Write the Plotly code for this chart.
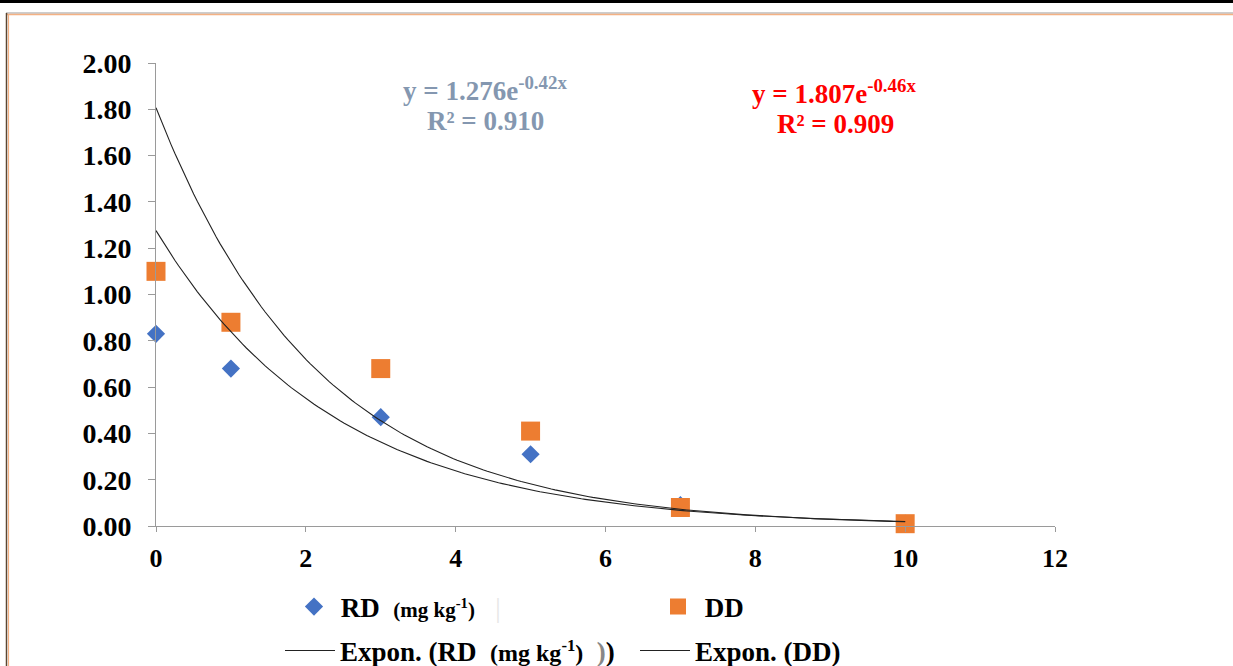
import numpy as np
import plotly.graph_objects as go

# ---- data ----
days = [0, 1, 3, 5, 7, 10]
rd_values = [0.83, 0.68, 0.47, 0.31, 0.09, 0.01]
dd_values = [1.10, 0.88, 0.68, 0.41, 0.08, 0.01]

# trendline coefficients as printed on the chart
rd_a, rd_b, rd_r2 = 1.276, -0.42, 0.910
dd_a, dd_b, dd_r2 = 1.807, -0.46, 0.909

x_ticks = [0, 2, 4, 6, 8, 10, 12]
y_ticks = [0.0, 0.2, 0.4, 0.6, 0.8, 1.0, 1.2, 1.4, 1.6, 1.8, 2.0]

FONT = "Liberation Serif, Times New Roman, serif"
W, H = 1233, 666
L, R, T, B = 156, 178, 63, 140
PW, PH = W - L - R, H - T - B

def px(x):
    return (x - L) / PW

def py(y):
    return (H - B - y) / PH

xs = np.linspace(0, 10, 200)
rd_fit = rd_a * np.exp(rd_b * xs)
dd_fit = dd_a * np.exp(dd_b * xs)

unit1 = "<span style='font-size:21px'>(mg kg<sup>-1</sup>)</span>"
unit2 = "<span style='font-size:24px'>(mg kg<sup>-1</sup>)</span>"

fig = go.Figure()
fig.add_trace(go.Scatter(
    x=days, y=rd_values, mode="markers",
    name=" <b>RD</b>  <b>" + unit1 + "</b>   <span style='color:#e6e6e6'>|</span>",
    marker=dict(symbol="diamond", size=14, color="#4472C4"),
    cliponaxis=False, legend="legend"))
fig.add_trace(go.Scatter(
    x=days, y=dd_values, mode="markers", name=" <b>DD</b>",
    marker=dict(symbol="square", size=19, color="#ED7D31"),
    cliponaxis=False, legend="legend"))
fig.add_trace(go.Scatter(
    x=xs, y=rd_fit, mode="lines",
    name="<b>Expon. (RD</b>  <b>" + unit2 + "</b>  <b><span style='color:#888'>)</span>)</b>",
    line=dict(color="#222222", width=1.1), legend="legend2"))
fig.add_trace(go.Scatter(
    x=xs, y=dd_fit, mode="lines", name="<b>Expon. (DD)</b>",
    line=dict(color="#222222", width=1.1), legend="legend2"))

fig.update_layout(
    width=W, height=H,
    margin=dict(l=L, r=R, t=T, b=B, autoexpand=False),
    paper_bgcolor="white", plot_bgcolor="white",
    font=dict(family=FONT, size=26, color="black"),
    showlegend=True,
    legend=dict(orientation="h", x=px(294), y=py(607), xanchor="left", yanchor="middle",
                entrywidth=319, entrywidthmode="pixels",
                font=dict(family=FONT, size=27, color="black"),
                bgcolor="rgba(0,0,0,0)", itemclick=False),
    legend2=dict(orientation="h", x=px(280), y=py(651), xanchor="left", yanchor="middle",
                 entrywidth=290, entrywidthmode="pixels", itemwidth=50,
                 font=dict(family=FONT, size=27, color="black"),
                 bgcolor="rgba(0,0,0,0)", itemclick=False),
    xaxis=dict(range=[0, 12], tickvals=x_ticks, ticktext=[f"<b>{v}</b>" for v in x_ticks],
               showgrid=False, zeroline=False, showline=True, linecolor="#9a9a9a", linewidth=1,
               ticks="outside", ticklen=5, tickcolor="#9a9a9a", automargin=False,
               tickfont=dict(family=FONT, size=26, color="black"), ticklabelstandoff=4),
    yaxis=dict(range=[0, 2.0], tickvals=y_ticks, ticktext=[f"<b>{v:.2f}</b>" for v in y_ticks],
               showgrid=False, zeroline=False, showline=True, linecolor="#9a9a9a", linewidth=1,
               ticks="outside", ticklen=7, tickcolor="#9a9a9a", automargin=False,
               tickfont=dict(family=FONT, size=28, color="black"), ticklabelstandoff=11),
)

fig.add_annotation(xref="paper", yref="paper", x=px(485), y=py(89), xanchor="center", yanchor="middle",
                   text=f"<b>y = {rd_a:.3f}e<sup>{rd_b:.2f}x</sup></b>", showarrow=False,
                   font=dict(family=FONT, size=27, color="#8497B0"))
fig.add_annotation(xref="paper", yref="paper", x=px(485), y=py(121), xanchor="center", yanchor="middle",
                   text=f"<b>R² = {rd_r2:.3f}</b>", showarrow=False,
                   font=dict(family=FONT, size=27, color="#8497B0"))
fig.add_annotation(xref="paper", yref="paper", x=px(834), y=py(92), xanchor="center", yanchor="middle",
                   text=f"<b>y = {dd_a:.3f}e<sup>{dd_b:.2f}x</sup></b>", showarrow=False,
                   font=dict(family=FONT, size=27, color="#FF0000"))
fig.add_annotation(xref="paper", yref="paper", x=px(835), y=py(124), xanchor="center", yanchor="middle",
                   text=f"<b>R² = {dd_r2:.3f}</b>", showarrow=False,
                   font=dict(family=FONT, size=27, color="#FF0000"))

# page frame lines
fig.add_shape(type="line", xref="paper", yref="paper", x0=px(0), x1=px(W), y0=py(1.5), y1=py(1.5),
              line=dict(color="black", width=3))
fig.add_shape(type="line", xref="paper", yref="paper", x0=px(6), x1=px(W), y0=py(13), y1=py(13),
              line=dict(color="#9a9a9a", width=1))
fig.add_shape(type="line", xref="paper", yref="paper", x0=px(6), x1=px(W), y0=py(14.5), y1=py(14.5),
              line=dict(color="#F4B183", width=1.5))
fig.add_shape(type="line", xref="paper", yref="paper", x0=px(6.5), x1=px(6.5), y0=py(13), y1=py(H),
              line=dict(color="#5a4632", width=1.5))
fig.add_shape(type="line", xref="paper", yref="paper", x0=px(8.5), x1=px(8.5), y0=py(14), y1=py(H),
              line=dict(color="#F4B183", width=1.2))

fig.write_html("out.html")
